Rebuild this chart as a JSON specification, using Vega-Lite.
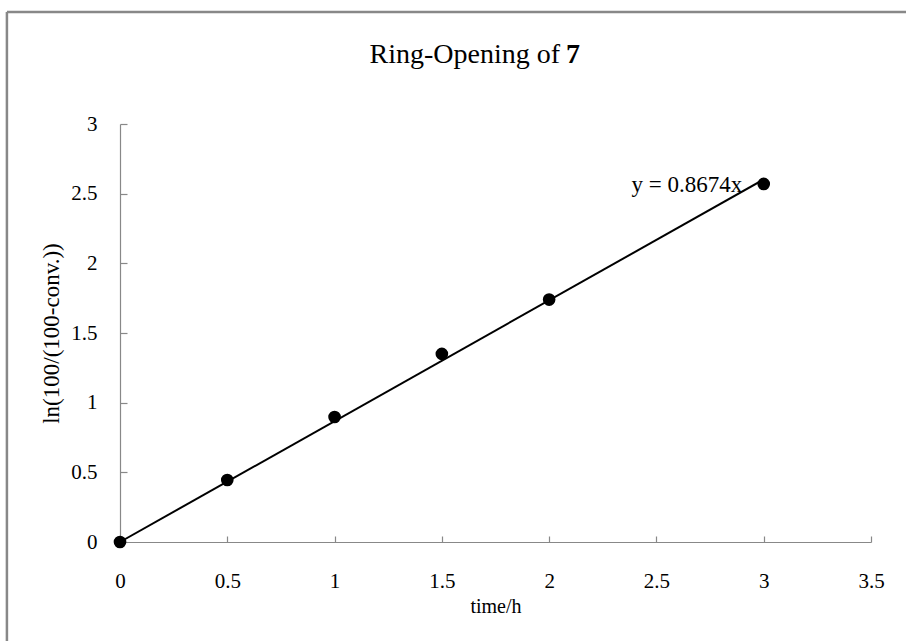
{
  "$schema": "https://vega.github.io/schema/vega-lite/v6.json",
  "width": 751,
  "height": 418,
  "autosize": {"type": "none"},
  "padding": {"left": 120, "top": 124, "right": 35, "bottom": 99},
  "background": "white",
  "config": {
    "view": {"stroke": null},
    "axis": {
      "labelFont": "Liberation Serif",
      "titleFont": "Liberation Serif",
      "labelFontSize": 21,
      "titleFontSize": 20,
      "labelColor": "black",
      "titleColor": "black",
      "titleFontWeight": "normal",
      "domainColor": "#888888",
      "tickColor": "#888888",
      "domainWidth": 1.2,
      "tickWidth": 1.2,
      "labelFlush": false,
      "grid": false
    }
  },
  "datasets": {
    "points": [
      {"time": 0, "lnval": 0},
      {"time": 0.5, "lnval": 0.445},
      {"time": 1, "lnval": 0.897},
      {"time": 1.5, "lnval": 1.35},
      {"time": 2, "lnval": 1.74},
      {"time": 3, "lnval": 2.57}
    ],
    "trend": [
      {"time": 0, "lnval": 0},
      {"time": 3, "lnval": 2.6022}
    ],
    "single": [{}]
  },
  "layer": [
    {
      "data": {"name": "single"},
      "mark": {"type": "rule", "color": "#888888", "strokeWidth": 2.5, "clip": false},
      "encoding": {
        "x": {"datum": -0.527, "type": "quantitative", "scale": {"domain": [0, 3.5], "nice": false}},
        "x2": {"datum": 5},
        "y": {"datum": 3.804, "type": "quantitative"}
      }
    },
    {
      "data": {"name": "single"},
      "mark": {"type": "rule", "color": "#888888", "strokeWidth": 2.5, "clip": false},
      "encoding": {
        "x": {"datum": -0.527, "type": "quantitative"},
        "y": {"datum": 3.804, "type": "quantitative"},
        "y2": {"datum": -2}
      }
    },
    {
      "data": {"name": "single"},
      "mark": {"type": "text", "text": "Ring-Opening of", "font": "Liberation Serif", "fontSize": 28, "align": "right", "baseline": "alphabetic", "color": "black", "clip": false},
      "encoding": {
        "x": {"datum": 2.0506, "type": "quantitative"},
        "y": {"datum": 3.438, "type": "quantitative"}
      }
    },
    {
      "data": {"name": "single"},
      "mark": {"type": "text", "text": "7", "font": "Liberation Serif", "fontSize": 28, "fontWeight": "bold", "align": "left", "baseline": "alphabetic", "color": "black", "clip": false},
      "encoding": {
        "x": {"datum": 2.0786, "type": "quantitative"},
        "y": {"datum": 3.438, "type": "quantitative"}
      }
    },
    {
      "data": {"name": "trend"},
      "mark": {"type": "line", "color": "black", "strokeWidth": 2},
      "encoding": {
        "x": {"field": "time", "type": "quantitative"},
        "y": {"field": "lnval", "type": "quantitative"}
      }
    },
    {
      "data": {"name": "points"},
      "mark": {"type": "point", "filled": true, "color": "black", "size": 160, "opacity": 1},
      "encoding": {
        "x": {
          "field": "time",
          "type": "quantitative",
          "title": "time/h",
          "scale": {"domain": [0, 3.5], "nice": false},
          "axis": {
            "values": [0, 0.5, 1, 1.5, 2, 2.5, 3, 3.5],
            "labelExpr": "datum.value + ''",
            "tickSize": -6,
            "labelPadding": 34,
            "titlePadding": 5
          }
        },
        "y": {
          "field": "lnval",
          "type": "quantitative",
          "title": "ln(100/(100-conv.))",
          "scale": {"domain": [0, 3], "nice": false},
          "axis": {
            "values": [0, 0.5, 1, 1.5, 2, 2.5, 3],
            "labelExpr": "datum.value + ''",
            "tickSize": -7,
            "labelPadding": 30,
            "titlePadding": 7,
            "titleFontSize": 23
          }
        }
      }
    },
    {
      "data": {"name": "single"},
      "mark": {"type": "text", "text": "y = 0.8674x", "font": "Liberation Serif", "fontSize": 23, "align": "right", "baseline": "middle", "color": "black"},
      "encoding": {
        "x": {"datum": 2.9, "type": "quantitative"},
        "y": {"datum": 2.56, "type": "quantitative"}
      }
    }
  ]
}
